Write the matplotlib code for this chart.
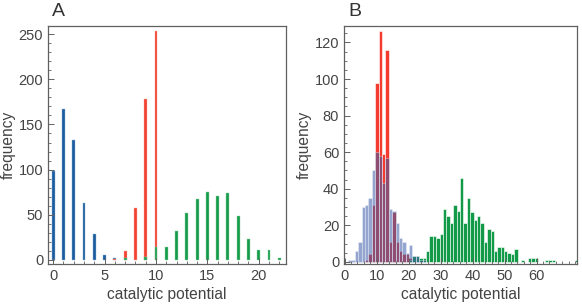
import numpy as np
import matplotlib
matplotlib.use("Agg")
import matplotlib.pyplot as plt
from matplotlib.ticker import MultipleLocator

plt.rcParams['font.family'] = ['Liberation Sans', 'DejaVu Sans']

# ---------------- Panel A data (discrete catalytic potential) ----------------
a_blue_x = [0, 1, 2, 3, 4, 5, 6]
a_blue_y = [99, 167, 133, 63, 29, 6, 2]
a_red_x = [6, 7, 8, 9, 10]
a_red_y = [1, 10, 57, 178, 253]
a_green_x = [7, 9, 10, 11, 12, 13, 14, 15, 16, 17, 18, 19, 20, 21, 22]
a_green_y = [2, 3, 14, 14, 32, 52, 67, 75, 71, 74, 49, 23, 11, 11, 2]

# ---------------- Panel B data (histograms) ----------------
b_bin_width = 1.06   # bin width
b_blue_bins = list(range(1, 24))
b_blue_counts = [1, 1, 6, 11, 30, 31, 35, 50, 60, 58, 43, 57, 29, 28, 21, 13, 11, 5, 9, 3, 3, 1, 1]
b_red_bins = list(range(6, 24))
b_red_counts = [1, 4, 31, 98, 126, 59, 116, 11, 27, 11, 6, 4, 4, 2, 1, 1, 1, 1]
b_green_bins = [19, 20, 21, 22, 23, 24, 25, 26, 27, 28, 29, 30, 31, 32, 33, 34, 35, 36,
                37, 38, 39, 40, 41, 42, 43, 44, 45, 46, 47, 48, 49, 50, 52, 54, 55,
                56, 59, 60, 61, 68]
b_green_counts = [1, 3, 3, 2, 2, 6, 14, 14, 13, 15, 29, 25, 21, 31, 28, 46, 21, 35,
                  27, 23, 25, 21, 11, 18, 17, 6, 8, 8, 6, 5, 4, 7, 1, 2, 2,
                  2, 1, 1, 1, 1]

A_BLUE = '#1b5d9e'
A_RED = '#f2412f'
A_GREEN = '#159c4a'
B_BLUE = '#3d5ca8'
TEXT = '#444444'
FRAME = '#606060'

fig = plt.figure(figsize=(5.82, 3.04), dpi=100)
W, H = 582, 304
axA = fig.add_axes([48 / W, 1 - 264 / H, (286 - 48) / W, (264 - 26) / H])
axB = fig.add_axes([344 / W, 1 - 264 / H, (577 - 344) / W, (264 - 26) / H])


def style(ax):
    for s in ax.spines.values():
        s.set_color(FRAME)
        s.set_linewidth(0.9)
    ax.tick_params(which='both', direction='in', colors=FRAME, labelcolor=TEXT,
                   labelsize=10.5, top=False, right=False)
    ax.tick_params(which='major', length=4, width=0.7)
    ax.tick_params(which='minor', length=2, width=0.6)
    ax.set_xlabel('catalytic potential', fontsize=11.2, color=TEXT, labelpad=3)
    ax.set_ylabel('frequency', fontsize=11.2, color=TEXT, labelpad=2)


# Panel A
bw = 0.28
axA.bar(a_blue_x, a_blue_y, width=bw, color=A_BLUE, edgecolor='#8fb3d6', linewidth=0.3)
axA.bar(a_red_x, a_red_y, width=bw, color=A_RED, edgecolor='#f8a9a0', linewidth=0.3)
axA.bar(a_green_x, a_green_y, width=bw, color=A_GREEN, edgecolor='#93d3aa', linewidth=0.3)
axA.set_xlim(-0.5, 22.65)
axA.set_ylim(-4.5, 259)
axA.xaxis.set_major_locator(MultipleLocator(5))
axA.xaxis.set_minor_locator(MultipleLocator(1))
axA.yaxis.set_major_locator(MultipleLocator(50))
axA.yaxis.set_minor_locator(MultipleLocator(10))
style(axA)

# Panel B
def edges(bins):
    return np.asarray(bins) * b_bin_width

axB.bar(edges(b_red_bins), b_red_counts, width=b_bin_width, align='edge', color='#f43b2f',
        edgecolor='white', linewidth=0.4)
axB.bar(edges(b_green_bins), b_green_counts, width=b_bin_width, align='edge', color='#139a48',
        edgecolor='white', linewidth=0.4)
axB.bar(edges(b_blue_bins), b_blue_counts, width=b_bin_width, align='edge', color=B_BLUE,
        alpha=0.55, edgecolor='white', linewidth=0.4)
axB.set_xlim(-0.2, 72.6)
axB.set_xticks([0, 10, 20, 30, 40, 50, 60])
axB.xaxis.set_minor_locator(MultipleLocator(2))
axB.set_ylim(-1.2, 129)
axB.yaxis.set_major_locator(MultipleLocator(20))
axB.yaxis.set_minor_locator(MultipleLocator(5))
style(axB)

fig.text(52 / W, 1 - 12 / H, 'A', fontsize=14, color='#333333', va='center', ha='left')
fig.text(348 / W, 1 - 12 / H, 'B', fontsize=14, color='#333333', va='center', ha='left')

fig.savefig('out.png', dpi=100)
